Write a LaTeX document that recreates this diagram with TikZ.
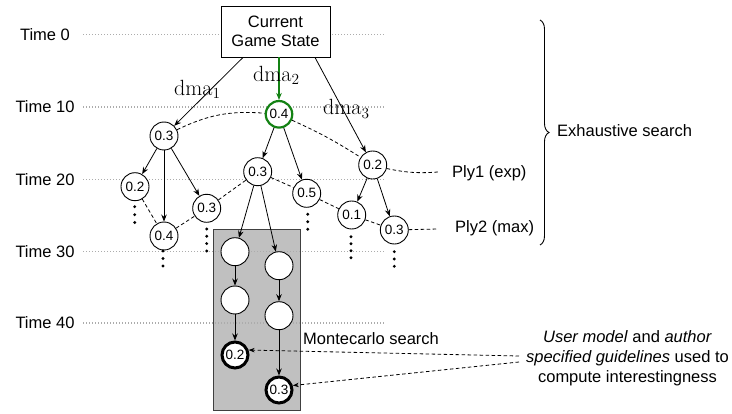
\RequirePackage{fix-cm}
\documentclass[tikz,border=0pt]{standalone}
\usepackage{fontspec}
\setsansfont{Liberation Sans}
\usetikzlibrary{arrows.meta,decorations.pathreplacing,calc}
\definecolor{dgreen}{RGB}{20,130,20}
\definecolor{boxgray}{RGB}{192,192,192}
\begin{document}
\begin{tikzpicture}[x=1pt,y=-1pt,
  font=\sffamily\fontsize{16.5}{19}\selectfont,
  tline/.style={gray!65, line width=1.3pt, dash pattern=on 1.1pt off 1.9pt},
  nd/.style={circle, draw, fill=white, minimum size=28pt, inner sep=0pt, line width=0.9pt,
    font=\sffamily\fontsize{13.5}{15}\selectfont},
  bnd/.style={nd, line width=3pt, minimum size=26pt},
  gnd/.style={nd, draw=dgreen, line width=2.2pt, minimum size=26.5pt},
  arr/.style={-{Stealth[length=7pt,width=5.5pt]}, line width=0.8pt},
  garr/.style={-{Stealth[length=7pt,width=5.5pt]}, line width=2pt, draw=dgreen},
  dsh/.style={dash pattern=on 3.5pt off 2.5pt, line width=0.8pt},
  darr/.style={dsh, -{Stealth[length=6pt,width=4.5pt]}},
  lbl/.style={inner sep=0pt},
  dmalbl/.style={anchor=base west, inner sep=0pt, font=\fontsize{22}{26}\selectfont}]
\useasboundingbox (0,0) rectangle (732,414);

% Montecarlo box
\node[draw=black!75, fill=boxgray, line width=1pt, minimum width=86.7pt, minimum height=180.7pt, inner sep=0pt] (mc) at (257.3,319.7) {};

% time labels and lines
\foreach \y/\t in {34.5/0,107/10,179.3/20,251.7/30,323/40}{
  \node[lbl] (time\t) at (45,\y) {Time \t};
  \coordinate (ts\t) at (83,\y);
  \coordinate (te\t) at (385,\y);
  \draw[tline] (ts\t) -- (te\t);
}

% root
\node[draw, fill=white, line width=0.9pt, minimum width=109pt, minimum height=51pt, align=center, inner sep=0pt] (cgs) at (275.5,31.5) {Current\\Game State};

% level 1
\node[nd] (n1) at (164,136) {0.3};
\node[gnd] (g) at (279,114.3) {0.4};
\node[nd] (r1) at (372.7,165) {0.2};
% level 2
\node[nd] (a2) at (135,186.7) {0.2};
\node[nd] (b2) at (164,236) {0.4};
\node[nd] (c2) at (206.7,208.3) {0.3};
\node[nd] (m2) at (257.7,171.7) {0.3};
\node[nd] (f2) at (306.7,193.3) {0.5};
\node[nd] (s2) at (351.7,215) {0.1};
\node[nd] (t2) at (394.3,230) {0.3};
% montecarlo nodes
\node[nd] (mc1) at (235,251.7) {};
\node[nd] (mc2) at (235,300) {};
\node[bnd] (mc3) at (235,355) {0.2};
\node[nd] (mc4) at (279,265.7) {};
\node[nd] (mc5) at (279,315.7) {};
\node[bnd] (mc6) at (279,390) {0.3};

% vertical dots
\foreach \x/\ys in {134.7/{206.7,214.7,222.5},163/{251,258.5,266},206.7/{229,236.3,243.6,251},
  307.7/{214.3,221.8,229.3},351/{236.7,243.7,250.7,257.7},394.3/{251.7,259,266.3}}{
  \foreach \yy in \ys { \fill (\x,\yy) circle[radius=1.6pt]; }
}

% tree arrows
\draw[arr] ([xshift=-32.5pt]cgs.south) -- (n1);
\draw[garr] ([xshift=3.5pt]cgs.south) -- (g);
\draw[arr] ([xshift=39.5pt]cgs.south) -- (r1);
\draw[arr] (n1) -- (a2);
\draw[arr] (n1) -- (b2);
\draw[arr] (n1) -- (c2);
\draw[arr] (g) -- (m2);
\draw[arr] (g) -- (f2);
\draw[arr] (r1) -- (s2);
\draw[arr] (r1) -- (t2);
\draw[arr] (m2) -- (mc1);
\draw[arr] (m2) -- (mc4);
\draw[arr] (mc1) -- (mc2);
\draw[arr] (mc2) -- (mc3);
\draw[arr] (mc4) -- (mc5);
\draw[arr] (mc5) -- (mc6);

% dma labels
\node[dmalbl] (dma1) at (174,95.7) {$\mathrm{dma}_1$};
\node[dmalbl] (dma2) at (253,81.7) {$\mathrm{dma}_2$};
\node[dmalbl] (dma3) at (323,115) {$\mathrm{dma}_3$};

% ply labels
\node[lbl, anchor=west] (ply1) at (452,173) {Ply1 (exp)};
\node[lbl, anchor=west] (ply2) at (455,228) {Ply2 (max)};
\coordinate (p1) at (438,172);
\coordinate (p2) at (438,229);

% ply chains
\draw[dsh] (n1) to[bend left=15] (g);
\draw[dsh] (g) to[bend left=4] (r1);
\draw[dsh] (r1) to[bend right=8] (p1);
\draw[dsh] (a2) -- (b2);
\draw[dsh] (b2) -- (c2);
\draw[dsh] (c2) -- (m2);
\draw[dsh] (m2) -- (f2);
\draw[dsh] (f2) -- (s2);
\draw[dsh] (s2) -- (t2);
\draw[dsh] (t2) -- (p2);

% brace
\coordinate (bt) at (540,20);
\coordinate (bb) at (540,245);
\draw[line width=0.9pt, decorate, decoration={brace, amplitude=9pt}] (bt) -- (bb);
\node[lbl, anchor=west] (exh) at (557,131) {Exhaustive search};

% montecarlo label
\node[lbl, anchor=west] (mcl) at (303,339) {Montecarlo search};

% user model text
\node[lbl, align=center, font=\sffamily\fontsize{16.5}{20}\selectfont] (um) at (627.5,358)
  {\textit{User model} and \textit{author}\\\textit{specified guidelines} used to\\compute interestingness};
\coordinate (u1) at (519,356);
\coordinate (u2) at (519,362);
\draw[darr] (u1) -- (mc3.20);
\draw[darr] (u2) -- (mc6.18);
\end{tikzpicture}
\end{document}
